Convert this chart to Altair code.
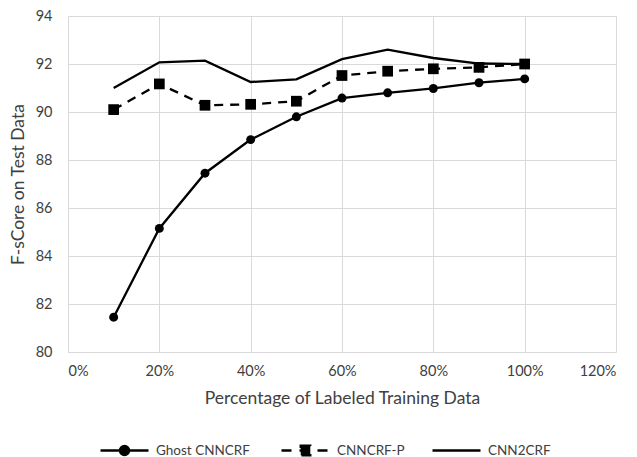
import altair as alt
import pandas as pd

pct = [10, 20, 30, 40, 50, 60, 70, 80, 90, 100]
ghost = [81.45, 85.15, 87.45, 88.85, 89.8, 90.58, 90.8, 90.98, 91.22, 91.38]
cnncrf_p = [90.1, 91.17, 90.28, 90.32, 90.45, 91.52, 91.7, 91.8, 91.86, 92.0]
cnn2crf = [91.0, 92.07, 92.14, 91.25, 91.36, 92.2, 92.6, 92.25, 92.02, 92.0]
series_names = ["Ghost CNNCRF", "CNNCRF-P", "CNN2CRF"]
x_ticks = [0, 20, 40, 60, 80, 100, 120]
y_ticks = [80, 82, 84, 86, 88, 90, 92, 94]

df_g = pd.DataFrame({"pct": pct, "score": ghost, "g": series_names[0]})
df_p = pd.DataFrame({"pct": pct, "score": cnncrf_p, "p": series_names[1]})
df_c = pd.DataFrame({"pct": pct, "score": cnn2crf, "c": series_names[2]})

FONT = "Lato"
TXT = "#404040"
SW = 2.3

x_enc = alt.X("pct:Q", scale=alt.Scale(domain=[0, 120], nice=False),
              axis=alt.Axis(values=x_ticks, labelExpr="datum.value + '%'",
                            title="Percentage of Labeled Training Data",
                            titlePadding=12, labelPadding=12))
y_enc = alt.Y("score:Q", scale=alt.Scale(domain=[80, 94], nice=False, zero=False),
              axis=alt.Axis(values=y_ticks, title="F-sCore on Test Data",
                            titlePadding=8, labelPadding=16))

ghost_path = "M-1,0H1M0.19,0A0.19,0.19,0,1,1,-0.19,0A0.19,0.19,0,1,1,0.19,0Z"
sq_path = "M-1,0H1M-0.2,-0.2H0.2V0.2H-0.2Z"
line_path = "M-1,0H1"

LEG_Y = 409
common = dict(title=None, orient="none", legendY=LEG_Y, symbolSize=2304,
              symbolStrokeWidth=SW, labelOffset=6, symbolStrokeColor="black",
              symbolFillColor="black", labelFont=FONT, labelFontSize=13.5,
              labelColor=TXT)

# Ghost CNNCRF
g_line = alt.Chart(df_g).mark_line(strokeWidth=SW, color="black").encode(x=x_enc, y=y_enc)
g_pts = alt.Chart(df_g).mark_point(filled=True, opacity=1, size=80, strokeWidth=0).encode(
    x=x_enc, y=y_enc,
    color=alt.Color("g:N", scale=alt.Scale(domain=[series_names[0]], range=["black"]),
                    legend=alt.Legend(legendX=31, symbolType=ghost_path, **common)),
)

# CNNCRF-P
p_line = alt.Chart(df_p).mark_line(strokeWidth=SW, color="black", strokeDash=[9, 7]).encode(
    x=x_enc, y=y_enc)
p_pts = alt.Chart(df_p).mark_point(filled=True, opacity=1, shape="square", size=115,
                                   strokeWidth=0).encode(
    x=x_enc, y=y_enc,
    fill=alt.Fill("p:N", scale=alt.Scale(domain=[series_names[1]], range=["black"]),
                  legend=alt.Legend(legendX=212, symbolType=sq_path, symbolDash=[10, 8],
                                    **common)),
)

# CNN2CRF
c_line = alt.Chart(df_c).mark_line(strokeWidth=SW).encode(
    x=x_enc, y=y_enc,
    stroke=alt.Stroke("c:N", scale=alt.Scale(domain=[series_names[2]], range=["black"]),
                      legend=alt.Legend(legendX=363, symbolType=line_path, **common)),
)

chart = alt.layer(c_line, p_line, g_line, p_pts, g_pts).resolve_scale(
    color="independent", fill="independent", stroke="independent"
).resolve_legend(color="independent", fill="independent", stroke="independent").properties(
    width=548, height=336,
    autosize=alt.AutoSizeParams(type="none"),
    padding={"left": 60, "top": 8, "right": 13, "bottom": 105},
).configure_view(stroke=None).configure_axis(
    grid=True, gridColor="#d9d9d9", gridWidth=1, domain=False, ticks=False,
    labelFont=FONT, titleFont=FONT, labelFontSize=14.5, titleFontSize=17.5,
    labelColor=TXT, titleColor=TXT, titleFontWeight="normal",
)

chart.save("out.html", embed_options={"renderer": "svg", "actions": False})
